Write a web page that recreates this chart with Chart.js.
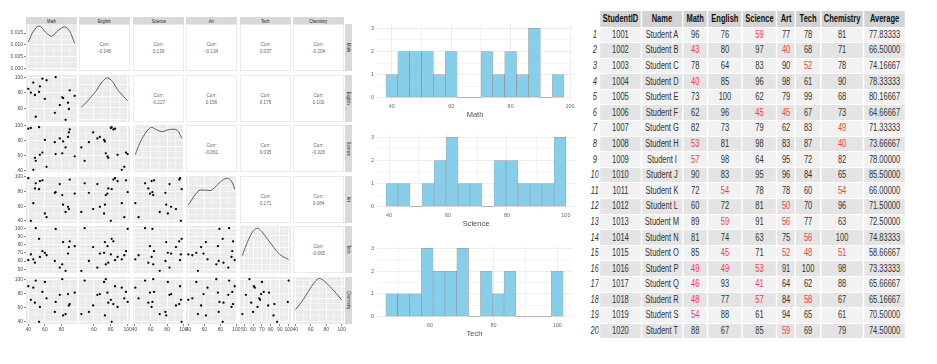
<!DOCTYPE html>
<html><head><meta charset="utf-8">
<title>Student scores</title>
<script src="https://cdn.jsdelivr.net/npm/chart.js@4.4.1/dist/chart.umd.min.js"></script>
<style>
html,body{margin:0;padding:0;background:#fff;}
body{position:relative;width:937px;height:364px;overflow:hidden;font-family:"Liberation Sans",Arial,sans-serif;}
canvas{position:absolute;}
.strip{position:absolute;background:#d9d9d9;color:#1a1a1a;font-size:5px;display:flex;align-items:center;justify-content:center;overflow:hidden;white-space:nowrap}
.strip span{display:block;transform:scaleX(.8)}
.strip.r span{writing-mode:vertical-rl;transform:scaleY(.8)}
.upper{position:absolute;box-sizing:border-box;border:1px solid #ebebeb;background:#fff;display:flex;flex-direction:column;align-items:center;justify-content:center;color:#666;font-size:6px;line-height:6.5px}
.upper span{display:block;transform:scaleX(.78)}
#tbl{position:absolute;left:589px;top:10px;transform:scaleX(.75);transform-origin:0 0;}
table{border-collapse:separate;border-spacing:2px 1px;table-layout:fixed;width:423px;font-size:10px;color:#333;}
th{background:#d3d3d3;color:#111;font-weight:bold;height:15.5px;padding:0;text-align:center;white-space:nowrap;overflow:hidden}
th.ix{background:transparent}
td{height:14.6px;padding:0;text-align:center;white-space:nowrap;line-height:10px;overflow:hidden}
tr.od td{background:#f2f2f2}
tr.ev td{background:#e4e4e4}
tr td.ix{background:transparent;font-style:italic;color:#333}
td.low{color:#f03c46}
</style>
</head>
<body>
<script>
// ---------------- data ----------------
const varNames = ['Math', 'English', 'Science', 'Art', 'Tech', 'Chemistry'];
const studentIds = [1001,1002,1003,1004,1005,1006,1007,1008,1009,1010,1011,1012,1013,1014,1015,1016,1017,1018,1019,1020];
const studentNames = ['Student A','Student B','Student C','Student D','Student E','Student F','Student G','Student H','Student I','Student J','Student K','Student L','Student M','Student N','Student O','Student P','Student Q','Student R','Student S','Student T'];
const math      = [96,43,78,40,73,62,82,53,57,90,72,60,89,81,85,49,46,48,54,88];
const english   = [76,80,64,85,100,96,73,81,98,83,54,72,59,74,45,49,93,77,88,67];
const science   = [59,97,83,96,62,45,79,98,64,95,78,81,91,63,71,53,41,57,61,85];
const art       = [77,40,90,98,79,45,62,83,95,96,78,50,56,75,52,91,64,84,94,59];
const tech      = [78,68,52,61,99,67,83,87,72,84,60,70,77,56,48,100,62,58,65,69];
const chemistry = [81,71,78,90,68,73,49,40,82,65,54,96,63,100,51,98,88,67,61,79];
const averages  = [77.83333,66.5,74.16667,78.33333,80.16667,64.66667,71.33333,73.66667,78.0,85.5,66.0,71.5,72.5,74.83333,58.66667,73.33333,65.66667,65.16667,70.5,74.5];

// correlations shown in the upper triangle (row variable vs later columns)
const corrMath    = [-0.345, 0.139, -0.134, 0.037, -0.204];
const corrEnglish = [-0.227, 0.156, 0.175, 0.100];
const corrScience = [-0.061, 0.035, -0.326];
const corrArt     = [0.171, 0.084];
const corrTech    = [-0.065];

// tick labels of the pairs plot
const mathTicks = [40, 60, 80];
const englishTicks = [60, 80, 100];
const scienceTicks = [40, 60, 80, 100];
const artTicks = [40, 60, 80, 100];
const techTicks = [50, 60, 70, 80, 90, 100];
const chemistryTicks = [40, 60, 80, 100];
const densityTicks = [0, 0.005, 0.010, 0.015];

// density curves read from the diagonal (Math in density units, others as share of panel height)
const mathDensity      = [[40,.0113],[46,.0157],[53,.0179],[62,.0150],[68,.0137],[76,.0161],[84,.0176],[90,.0157],[96,.0107]];
const englishDensity   = [[45,.31],[52,.44],[62,.65],[70,.86],[76,.94],[82,.86],[88,.69],[100,.45]];
const scienceDensity   = [[41,.375],[46.6,.62],[54.8,.86],[61,.95],[67.1,.90],[74.1,.86],[81.5,.90],[89.7,.91],[95,.83],[98,.72]];
const artDensity       = [[40,.38],[48.5,.60],[54.9,.70],[61.3,.70],[67.7,.69],[76.2,.81],[82.6,.91],[88.9,.95],[95,.86],[98,.72]];
const techDensity      = [[48,.375],[54.9,.71],[60.5,.90],[65,.95],[69.9,.88],[75.5,.74],[81.1,.60],[86.7,.46],[93.4,.35],[100,.29]];
const chemistryDensity = [[40,.30],[48.2,.47],[56.8,.69],[65.4,.90],[71,.97],[78.4,.90],[87,.76],[93.5,.64],[100,.51]];

// histograms (bin centres and counts)
const mathBins = [40,44,48,52,56,60,64,68,72,76,80,84,88,92,96];
const mathCounts = [1,2,2,2,1,2,0,0,2,1,2,1,3,0,1];
const scienceBins = [41,45.07,49.14,53.21,57.29,61.36,65.43,69.5,73.57,77.64,81.71,85.79,89.86,93.93,98];
const scienceCounts = [1,1,0,1,2,3,1,1,0,2,2,1,1,1,3];
const techBins = [48,51.71,55.43,59.14,62.86,66.57,70.29,74,77.71,81.43,85.14,88.86,92.57,96.29,100];
const techCounts = [1,1,1,3,2,2,3,0,2,1,2,0,0,0,2];
const histXTicksMath = [40, 60, 80, 100];
const histXTicksScience = [40, 60, 80, 100];
const histXTicksTech = [60, 80, 100];
const histYTicks = [0, 1, 2, 3];

// ---------------- helpers ----------------
Chart.defaults.font.family = '"Liberation Sans", Arial, sans-serif';
const subjects = [math, english, science, art, tech, chemistry];
const varTicks = [mathTicks, englishTicks, scienceTicks, artTicks, techTicks, chemistryTicks];
const densities = [mathDensity, englishDensity, scienceDensity, artDensity, techDensity, chemistryDensity];
const corrRows = [corrMath, corrEnglish, corrScience, corrArt, corrTech];

const bgPlugin = {
  id: 'bg',
  beforeDraw(chart, args, opts) {
    if (!opts || !opts.color) return;
    const {ctx, chartArea: a} = chart;
    ctx.save(); ctx.fillStyle = opts.color; ctx.fillRect(a.left, a.top, a.width, a.height); ctx.restore();
  }
};
// outline of empty histogram bins (drawn along the zero baseline of each zero-height bar)
const emptyBinPlugin = {
  id: 'emptyBins',
  afterDatasetsDraw(chart) {
    const meta = chart.getDatasetMeta(0);
    const ds = chart.data.datasets[0].data;
    const ctx = chart.ctx;
    ctx.save();
    ctx.strokeStyle = 'rgba(0,0,0,0.33)';
    ctx.lineWidth = 0.8;
    meta.data.forEach((bar, i) => {
      if (ds[i].y !== 0) return;
      const p = bar.getProps(['x', 'width', 'base'], true);
      ctx.beginPath();
      ctx.moveTo(p.x - p.width / 2, p.base);
      ctx.lineTo(p.x + p.width / 2, p.base);
      ctx.stroke();
    });
    ctx.restore();
  }
};

function rng(arr, f) {
  const mn = Math.min(...arr), mx = Math.max(...arr), d = (mx - mn) * (f || 0.05);
  return [mn - d, mx + d];
}
function tickObjs(majors, min, max) {
  const step = majors.length > 1 ? majors[1] - majors[0] : 1;
  const out = majors.filter(v => v >= min && v <= max).map(v => ({value: v, isMajor: true}));
  [majors[0] - step / 2, ...majors.map(v => v + step / 2)].forEach(v => {
    if (v >= min && v <= max) out.push({value: v, isMajor: false});
  });
  return out.sort((a, b) => a.value - b.value);
}
function mkCanvas(left, top, w, h) {
  const c = document.createElement('canvas');
  c.width = w; c.height = h;
  c.style.left = left + 'px'; c.style.top = top + 'px';
  c.style.width = w + 'px'; c.style.height = h + 'px';
  document.body.appendChild(c);
  return c;
}
const isMaj = c => c.tick && c.tick.isMajor;
function axis(opts) {
  return {
    type: 'linear', min: opts.min, max: opts.max, offset: false,
    afterBuildTicks: s => { s.ticks = tickObjs(opts.majors, opts.min, opts.max); },
    afterFit: s => {
      if (s.isHorizontal()) s.height = opts.size; else s.width = opts.size;
      s.paddingLeft = s.paddingRight = s.paddingTop = s.paddingBottom = 0;
    },
    border: {display: false},
    grid: {
      offset: false,
      color: opts.gridColor,
      lineWidth: c => isMaj(c) ? opts.majW : opts.minW,
      drawTicks: !!(opts.show && opts.tickLen),
      tickLength: opts.tickLen || 0,
      tickWidth: 0.6,
      tickColor: c => isMaj(c) ? '#333' : 'rgba(0,0,0,0)'
    },
    ticks: {
      display: !!opts.show, autoSkip: false, maxRotation: 0, minRotation: 0,
      padding: opts.padding, color: opts.color, font: {size: opts.font},
      callback: (v, i, t) => (t[i] && t[i].isMajor) ? opts.fmt(v) : ''
    },
    title: opts.title ? {display: true, text: opts.title, color: '#4d4d4d', font: {size: 7.5}, padding: {top: 0, bottom: 0}} : {display: false}
  };
}

// ---------------- pairs plot ----------------
const colX = [26, 79, 133, 186, 240, 293];
const rowY = [24, 75, 125, 176, 226, 277];
const PW = 51, PH = 47;

varNames.forEach((n, c) => {
  const s = document.createElement('div');
  s.className = 'strip';
  s.style.cssText = `left:${colX[c]}px;top:17px;width:${PW}px;height:7px`;
  s.innerHTML = `<span>${n}</span>`;
  document.body.appendChild(s);
  const r = document.createElement('div');
  r.className = 'strip r';
  r.style.cssText = `left:345px;top:${rowY[c]}px;width:7px;height:${PH}px`;
  r.innerHTML = `<span>${n}</span>`;
  document.body.appendChild(r);
});

for (let r = 0; r < 6; r++) {
  for (let c = 0; c < 6; c++) {
    if (c > r) {
      const d = document.createElement('div');
      d.className = 'upper';
      d.style.cssText = `left:${colX[c]}px;top:${rowY[r]}px;width:${PW}px;height:${PH}px`;
      d.innerHTML = `<span>Corr:</span><span>${corrRows[r][c - r - 1].toFixed(3)}</span>`;
      document.body.appendChild(d);
      continue;
    }
    const bottom = r === 5;
    const padT = c === 0 ? 4 : 0;
    const padB = (c === 0 && !bottom) ? 4 : 0;
    const padL = (bottom && c > 0) ? 5 : 0;
    const padR = bottom ? 5 : 0;
    const left = (c === 0 ? 0 : colX[c]) - padL;
    const w = (c === 0 ? colX[0] + PW : PW) + padL + padR;
    const h = PH + (bottom ? 10 : 0) + padT + padB;
    const cv = mkCanvas(left, rowY[r] - padT, w, h);
    const [xMin, xMax] = rng(subjects[c]);
    let datasets, yMin, yMax, yMajors, yFmt = v => String(v);
    if (r === c) {
      const dens = densities[c];
      datasets = [{
        data: dens.map(p => ({x: p[0], y: p[1]})), showLine: true, pointRadius: 0,
        borderColor: '#3a3a3a', borderWidth: 0.8, cubicInterpolationMode: 'monotone', fill: false
      }];
      if (c === 0) {
        [yMin, yMax] = [0, Math.max(...dens.map(p => p[1]))];
        const e = (yMax - yMin) * 0.05; yMin -= e; yMax += e;
        yMajors = densityTicks; yFmt = v => v.toFixed(3);
      } else {
        yMin = 0; yMax = 1; yMajors = [0.045, 0.3, 0.55, 0.8];
      }
    } else {
      datasets = [{
        data: subjects[c].map((v, i) => ({x: v, y: subjects[r][i]})),
        pointRadius: 1.15, backgroundColor: '#000', borderWidth: 0, pointBorderWidth: 0
      }];
      [yMin, yMax] = rng(subjects[r]);
      yMajors = varTicks[r];
    }
    new Chart(cv, {
      type: 'scatter',
      data: {datasets},
      options: {
        responsive: false, animation: false, events: [], devicePixelRatio: 1,
        layout: {padding: {top: padT, bottom: padB, left: padL, right: padR}, autoPadding: false},
        plugins: {legend: {display: false}, tooltip: {enabled: false}, bg: {color: '#ebebeb'}},
        scales: {
          x: axis({min: xMin, max: xMax, majors: varTicks[c], show: bottom, size: bottom ? 10 : 0,
                   fmt: v => String(v), gridColor: '#fff', majW: 0.9, minW: 0.45, font: 5,
                   color: '#4d4d4d', padding: 0.5, tickLen: 2}),
          y: axis({min: yMin, max: yMax, majors: yMajors, show: c === 0, size: c === 0 ? colX[0] : 0,
                   fmt: yFmt, gridColor: '#fff', majW: 0.9, minW: 0.45, font: 5,
                   color: '#4d4d4d', padding: 1, tickLen: 2})
        }
      },
      plugins: [bgPlugin]
    });
  }
}

// ---------------- histograms ----------------
function histogram(top, plotH, rightPad, bins, counts, xTicks, title) {
  const half = (bins[1] - bins[0]) / 2;
  const [xMin, xMax] = rng([bins[0] - half, bins[bins.length - 1] + half]);
  const axisH = 18;
  const cv = mkCanvas(360, top, 220, 7 + plotH + axisH);
  new Chart(cv, {
    type: 'bar',
    data: {datasets: [{
      data: bins.map((b, i) => ({x: b, y: counts[i]})),
      backgroundColor: '#87ceeb', borderColor: 'rgba(0,0,0,0.33)', borderWidth: 0.7,
      borderSkipped: false, barPercentage: 1, categoryPercentage: 1
    }]},
    options: {
      responsive: false, animation: false, events: [], devicePixelRatio: 1,
      layout: {padding: {top: 7, right: rightPad, left: 0, bottom: 0}, autoPadding: false},
      plugins: {legend: {display: false}, tooltip: {enabled: false}},
      scales: {
        x: axis({min: xMin, max: xMax, majors: xTicks, show: true, size: axisH, fmt: v => String(v),
                 gridColor: '#ebebeb', majW: 0.9, minW: 0.5, font: 5.5, color: '#6b6b6b', padding: 2.5,
                 tickLen: 0, title: title}),
        y: axis({min: -0.15, max: 3.15, majors: histYTicks, show: true, size: 17, fmt: v => String(v),
                 gridColor: '#ebebeb', majW: 0.9, minW: 0.5, font: 5.5, color: '#6b6b6b', padding: 3,
                 tickLen: 0})
      }
    },
    plugins: [emptyBinPlugin]
  });
}
histogram(18, 76, 7, mathBins, mathCounts, histXTicksMath, 'Math');
histogram(127, 76, 5, scienceBins, scienceCounts, histXTicksScience, 'Science');
histogram(238, 75, 8, techBins, techCounts, histXTicksTech, 'Tech');

// ---------------- table ----------------
const colW = [11.3, 53.3, 53.3, 31.3, 44, 44, 23.3, 31.3, 55.3, 54];
let html = '<table><colgroup>' + colW.map(w => `<col style="width:${w}px">`).join('') + '</colgroup>';
html += '<thead><tr><th class="ix"></th>' + ['StudentID', 'Name', ...varNames, 'Average'].map(h => `<th>${h}</th>`).join('') + '</tr></thead><tbody>';
studentIds.forEach((id, i) => {
  html += `<tr class="${i % 2 ? 'ev' : 'od'}"><td class="ix">${i + 1}</td><td>${id}</td><td>${studentNames[i]}</td>` +
    subjects.map(s => `<td${s[i] < 60 ? ' class="low"' : ''}>${s[i]}</td>`).join('') +
    `<td>${averages[i].toFixed(5)}</td></tr>`;
});
html += '</tbody></table>';
const tb = document.createElement('div');
tb.id = 'tbl';
tb.innerHTML = html;
document.body.appendChild(tb);
</script>
</body></html>
